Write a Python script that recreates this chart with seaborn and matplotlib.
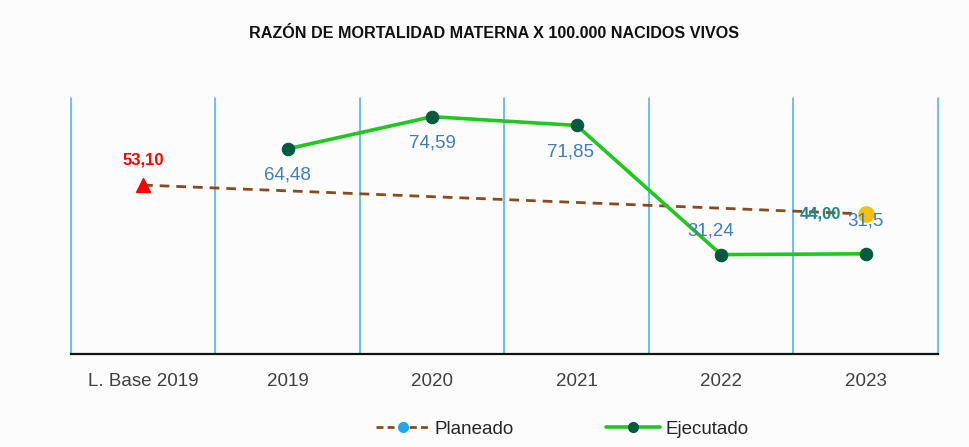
import numpy as np
import pandas as pd
import matplotlib
matplotlib.use('Agg')
import matplotlib.pyplot as plt
import seaborn as sns
from matplotlib.lines import Line2D

categories = ['L. Base 2019', '2019', '2020', '2021', '2022', '2023']
planeado = [53.10, np.nan, np.nan, np.nan, np.nan, 44.00]
ejecutado = [np.nan, 64.48, 74.59, 71.85, 31.24, 31.5]
ejec_labels = ['', '64,48', '74,59', '71,85', '31,24', '31,5']

sns.set_theme(style='white')
plt.rcParams['font.family'] = ['Liberation Sans', 'DejaVu Sans']

pos = np.arange(len(categories))
df_plan = pd.DataFrame({'x': pos, 'v': planeado}).dropna()
df_ejec = pd.DataFrame({'x': pos, 'v': ejecutado}).dropna()

fig = plt.figure(figsize=(9.69, 4.47), dpi=100, facecolor='#fcfcfc')
ax = fig.add_axes([0.073, 0.208, 0.895, 0.573])
ax.set_facecolor('#fcfcfc')

brown = '#8b4a1c'
green = '#1ec81e'
dkgreen = '#005a40'

sns.lineplot(data=df_plan, x='x', y='v', ax=ax, color=brown, lw=2,
             linestyle=(0, (3.5, 2.5)), zorder=3)
sns.lineplot(data=df_ejec, x='x', y='v', ax=ax, color=green, lw=2.6,
             marker='o', markersize=9, markerfacecolor=dkgreen,
             markeredgecolor=dkgreen, zorder=4)

# planned markers
ax.plot(pos[0], planeado[0], marker='^', color='#ff0000', ms=10, zorder=5,
        ls='none')
ax.plot(pos[5], planeado[5], marker='o', color='#f5c010', ms=11, zorder=5,
        ls='none')

ax.text(pos[0], planeado[0] + 5.5, '53,10', color='#ff0000', fontsize=12,
        fontweight='bold', ha='center', va='bottom')
ax.text(pos[5] - 0.31, planeado[5], '44,00', color='#1b8a8a', fontsize=12,
        fontweight='bold', ha='center', va='center', zorder=6)

offsets = {1: (0, -8.2), 2: (0, -8.2), 3: (-0.04, -8.5), 4: (-0.07, 7.3),
           5: (0.0, 10.3)}
for i, lab in enumerate(ejec_labels):
    if lab:
        dx, dy = offsets[i]
        ax.text(pos[i] + dx, ejecutado[i] + dy, lab, color='#3f7cc0',
                fontsize=13.5, ha='center', va='center', zorder=6)

ax.set_xlim(-0.5, 5.5)
ax.set_ylim(0, 80.5)
ax.set_xticks(pos)
ax.set_xticklabels(categories, fontsize=13.5, color='#404040')
ax.set_yticks([])
ax.set_xlabel('')
ax.set_ylabel('')
ax.tick_params(axis='x', length=0, pad=14)
for b in np.arange(-0.5, 6.0, 1.0):
    ax.axvline(b, color='#3fb0ee', lw=1.1, zorder=1, clip_on=False)
for s in ['top', 'left', 'right']:
    ax.spines[s].set_visible(False)
ax.spines['bottom'].set_color('#111111')
ax.spines['bottom'].set_linewidth(1.6)
ax.spines['bottom'].set_zorder(2)

fig.text(0.51, 0.925, 'RAZÓN DE MORTALIDAD MATERNA X 100.000 NACIDOS VIVOS',
         ha='center', va='center', fontsize=11.6, fontweight='bold',
         color='#111111')

handles = [
    Line2D([0], [0], color=brown, lw=2, linestyle=(0, (2.5, 1.5)), marker='o',
           markersize=7, markerfacecolor='#1fa8f0', markeredgecolor='#1fa8f0'),
    Line2D([0], [0], color=green, lw=2.6, marker='o', markersize=7,
           markerfacecolor=dkgreen, markeredgecolor=dkgreen),
]
fig.legend(handles, ['Planeado', 'Ejecutado'], loc='center',
           bbox_to_anchor=(0.58, 0.04), ncol=2, frameon=False, fontsize=13.5,
           handlelength=2.9, columnspacing=4.9, handletextpad=0.25)

fig.savefig('out.png', dpi=100, facecolor=fig.get_facecolor())
